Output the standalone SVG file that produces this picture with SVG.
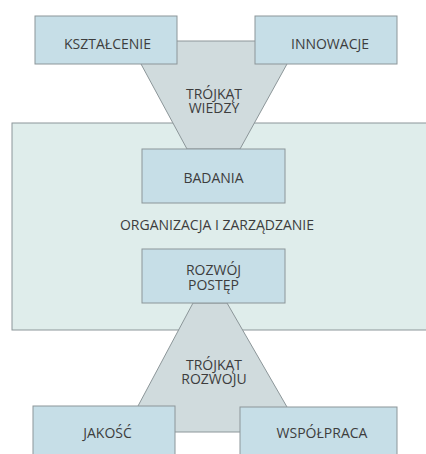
<svg xmlns="http://www.w3.org/2000/svg" width="426" height="454" viewBox="0 0 426 454">
<style>
.box{fill:#c6dee7;stroke:#8c9699;stroke-width:1}
.tri{fill:#d0dbdd;stroke:#8c9699;stroke-width:1}
.org{fill:#dfedeb;stroke:#8c9699;stroke-width:1}
text{font-family:"Open Sans","Liberation Sans",sans-serif;font-size:14px;fill:#3d3d3d;text-anchor:middle}
</style>
<rect width="426" height="454" fill="#ffffff"/>
<g id="org">
<rect class="org" x="12" y="123" width="420" height="207"/>
<text x="217" y="230">ORGANIZACJA I ZARZĄDZANIE</text>
</g>
<g id="connectors">
<g id="trojkat-wiedzy">
<polygon class="tri" points="177,41 255,41 287,64 240,149 187,149 141,64"/>
<text x="214" y="99">TRÓJKĄT</text>
<text x="214" y="113">WIEDZY</text>
</g>
<g id="trojkat-rozwoju">
<polygon class="tri" points="193,303 227,303 287,407 287,432 138,432 138,406"/>
<text x="214" y="370">TRÓJKĄT</text>
<text x="214" y="384">ROZWOJU</text>
</g>
</g>
<g id="ksztalcenie">
<rect class="box" x="35" y="16" width="142" height="48"/>
<text x="107.5" y="48.5">KSZTAŁCENIE</text>
</g>
<g id="innowacje">
<rect class="box" x="255" y="16" width="142" height="48"/>
<text x="330" y="48.5">INNOWACJE</text>
</g>
<g id="badania">
<rect class="box" x="142" y="149" width="143" height="54"/>
<text x="213.5" y="183">BADANIA</text>
</g>
<g id="rozwoj">
<rect class="box" x="142" y="249" width="143" height="54"/>
<text x="213.5" y="275">ROZWÓJ</text>
<text x="213.5" y="290">POSTĘP</text>
</g>
<g id="jakosc">
<rect class="box" x="33" y="406" width="142" height="60"/>
<text x="107.5" y="438">JAKOŚĆ</text>
</g>
<g id="wspolpraca">
<rect class="box" x="240" y="407" width="157" height="60"/>
<text x="322" y="438">WSPÓŁPRACA</text>
</g>
</svg>
